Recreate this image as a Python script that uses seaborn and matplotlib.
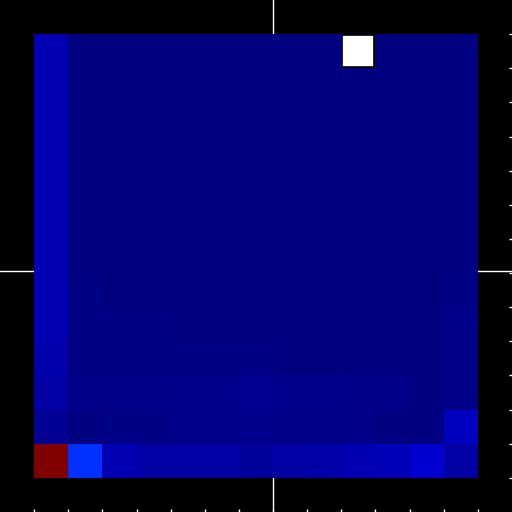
import numpy as np
import matplotlib
matplotlib.use("Agg")
import matplotlib.pyplot as plt
import seaborn as sns
from matplotlib.patches import Rectangle

# grid values (rows top -> bottom, cols left -> right), scale 0..1000
ROW_0_5 = [45, 0, 0, 0, 0, 0, 0, 0, 0, 0, 0, 0, 0]
VALUES = [
    ROW_0_5,
    ROW_0_5,
    ROW_0_5,
    ROW_0_5,
    ROW_0_5,
    ROW_0_5,
    [45, 0, 0, 0, 0, 0, 0, 0, 0, 0, 0, 0, 1],
    [45, 4, 1, 0, 0, 0, 0, 0, 0, 0, 0, 0, 5],
    [44, 5, 4, 4, 1, 1, 1, 0, 0, 0, 0, 0, 8],
    [41, 7, 5, 5, 4, 4, 5, 0, 0, 0, 0, 0, 11],
    [32, 11, 11, 11, 15, 15, 18, 12, 12, 8, 8, 0, 11],
    [19, 0, 5, 5, 15, 15, 15, 11, 11, 11, 1, 1, 58],
    [1000, 172, 45, 32, 32, 32, 24, 32, 37, 45, 50, 71, 32],
]
HIGHLIGHT_ROW = 0
HIGHLIGHT_COL = 9
CROSS_AT = 7

data = np.array(VALUES, dtype=float)
n = data.shape[0]

fig = plt.figure(figsize=(5.12, 5.12), dpi=100, facecolor="black")
ax = fig.add_axes([0, 0, 1, 1])
ax.set_facecolor("black")

# white cross behind the grid
ax.axvline(CROSS_AT, color="white", lw=1.0, zorder=0.5)
ax.axhline(CROSS_AT - 0.05, color="white", lw=1.0, zorder=0.5)

sns.heatmap(data, cmap="jet", vmin=0, vmax=1000, cbar=False, ax=ax)

ax.add_patch(Rectangle((HIGHLIGHT_COL + 0.03, HIGHLIGHT_ROW + 0.03), 0.94, 0.94,
                       facecolor="white", edgecolor="black", lw=1.2, zorder=3))

ax.set_xlim(-1, n + 1)
ax.set_ylim(n + 1, -1)
ticks = np.arange(n + 1)
ax.set_xticks(ticks)
ax.set_yticks(ticks)
ax.set_xticklabels([])
ax.set_yticklabels([])
ax.yaxis.tick_right()
ax.tick_params(axis="both", direction="in", length=2, width=1, color="white")
for s in ax.spines.values():
    s.set_visible(False)

fig.savefig("out.png", dpi=100, facecolor="black")
